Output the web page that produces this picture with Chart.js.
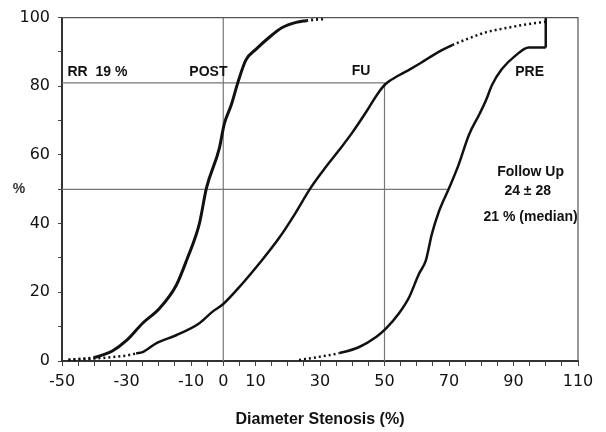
<!DOCTYPE html>
<html>
<head>
<meta charset="utf-8">
<script src="https://cdn.jsdelivr.net/npm/chart.js@4/dist/chart.umd.min.js"></script>
<style>
  html, body { margin: 0; padding: 0; background: #fff; }
</style>
</head>
<body>
<canvas id="courbes" width="606" height="432"></canvas>
<script>
// tick labels shown on the x axis
var xTickLabels = [-50, -30, -10, 0, 10, 30, 50, 70, 90, 110];

// cumulative curves (diameter stenosis %, cumulative %)
var postX = [-48, -44, -40, -37.6, -34.4, -30, -25, -19.8, -14.6, -11.3, -7.4, -5.2, -1.2, 0.3, 2.5, 4.5, 7, 10.2, 14.2, 18.3, 22.6, 25.7, 28, 31];
var postY = [0.3, 0.6, 1, 1.7, 2.9, 6, 11, 15.3, 22, 29.5, 40, 50.4, 62, 69, 74.6, 81, 87.6, 90.8, 94.2, 97.1, 98.6, 99.1, 99.4, 99.6];

var fuX = [-48, -42, -36, -30, -27, -25, -20.7, -14.6, -7.4, -3.4, 0, 5.9, 11.1, 17.3, 22, 27.1, 31, 36, 40, 44.3, 48, 50.5, 54.5, 58, 61.6, 65, 67.8, 71, 75.2, 81.4, 88.5, 93.8, 100];
var fuY = [0.3, 0.6, 1, 1.6, 2.2, 2.6, 5.2, 7.5, 11, 14.3, 16.6, 22.5, 28.3, 35.8, 42.5, 50.4, 55.5, 61.5, 66.5, 72.5, 78, 80.8, 83.2, 85, 87, 89, 90.5, 92, 93.6, 95.7, 97.1, 98, 98.8];

var preX = [23.5, 29.7, 36, 42, 47.4, 50.5, 54.5, 57.6, 60.7, 62.8, 64.7, 66.9, 70, 73, 76.2, 79.5, 81.5, 83.3, 86.4, 90.7, 94.7, 100];
var preY = [0.3, 1.2, 2.3, 4, 7, 9.5, 13.9, 18.5, 25.4, 29.2, 37, 43.6, 50.3, 57.2, 65.9, 72, 76, 80.3, 85, 89, 91.3, 91.3];
// PRE closing step at 100 %
var preEndX = [100, 100];
var preEndY = [91.3, 100];

// reference lines
var refZeroX = [0, 0];
var refZeroY = [0, 100];
var ref81X = [-50, 50, 50];
var ref81Y = [81, 81, 0];
var ref50X = [-50, 69.5];
var ref50Y = [50, 50];

function pts(xs, ys) {
  return xs.map(function (x, i) { return { x: x, y: ys[i] }; });
}

// pointillés aux extrémités des courbes
function pointille(bas, haut) {
  return function (ctx) {
    var a = ctx.p0.parsed.x, b = ctx.p1.parsed.x;
    if (b <= bas || a >= haut) return [2, 3];
    return undefined;
  };
}

function courbe(label, xs, ys, w, bas, haut) {
  return {
    label: label,
    data: pts(xs, ys),
    borderColor: '#111',
    borderWidth: w,
    pointRadius: 0,
    cubicInterpolationMode: 'monotone',
    order: 1,
    segment: { borderDash: pointille(bas, haut) }
  };
}

function repere(xs, ys, col, w) {
  return {
    data: pts(xs, ys),
    borderColor: col || '#777',
    borderWidth: w || 1.2,
    pointRadius: 0,
    tension: 0,
    order: 2
  };
}

var notes = [
  { t: 'RR  19 %', x: -48.3, y: 84.1, align: 'left' },
  { t: 'POST', x: -4.6, y: 84.1, align: 'center' },
  { t: 'FU', x: 42.7, y: 84.4, align: 'center' },
  { t: 'PRE', x: 95, y: 84.1, align: 'center' },
  { t: 'Follow Up', x: 95.3, y: 54.9, align: 'center' },
  { t: '24 \u00b1 28', x: 94.4, y: 49.4, align: 'center' },
  { t: '21 % (median)', x: 95.3, y: 41.9, align: 'center' }
];

var textes = {
  id: 'textes',
  afterDatasetsDraw: function (chart) {
    var c = chart.ctx, sx = chart.scales.x, sy = chart.scales.y, a = chart.chartArea;
    c.save();
    // cadre haut et droit
    c.strokeStyle = '#555';
    c.lineWidth = 1.2;
    c.beginPath();
    c.moveTo(a.left, a.top);
    c.lineTo(a.right, a.top);
    c.lineTo(a.right, a.bottom);
    c.stroke();

    c.fillStyle = '#111';
    c.font = 'bold 14px "Liberation Sans", Arial, sans-serif';
    c.textBaseline = 'middle';
    notes.forEach(function (n) {
      c.textAlign = n.align;
      c.fillText(n.t, sx.getPixelForValue(n.x), sy.getPixelForValue(n.y));
    });
    c.textAlign = 'center';
    c.fillStyle = '#333';
    c.fillText('%', a.left - 43, sy.getPixelForValue(50));
    c.restore();
  }
};

new Chart(document.getElementById('courbes'), {
  type: 'line',
  data: {
    datasets: [
      courbe('POST', postX, postY, 3, -38, 25),
      courbe('FU', fuX, fuY, 2.5, -27, 68),
      courbe('PRE', preX, preY, 2.5, 36, 999),
      repere(preEndX, preEndY, '#111', 2.5),
      repere(refZeroX, refZeroY),
      repere(ref81X, ref81Y),
      repere(ref50X, ref50Y)
    ]
  },
  options: {
    responsive: false,
    animation: false,
    layout: { padding: { left: 0, right: 28, top: 15, bottom: 0 } },
    plugins: { legend: { display: false }, tooltip: { enabled: false } },
    scales: {
      x: {
        type: 'linear',
        min: -50,
        max: 110,
        afterFit: function (s) { s.height = 71; },
        border: { color: '#333', width: 2 },
        grid: { drawOnChartArea: false, drawTicks: true, tickLength: 5, color: '#444' },
        ticks: {
          stepSize: 5,
          autoSkip: false,
          maxRotation: 0,
          padding: 6,
          color: '#111',
          font: { family: '"DejaVu Sans", sans-serif', size: 16 },
          callback: function (v) { return xTickLabels.indexOf(v) >= 0 ? String(v) : ''; }
        },
        title: {
          display: true,
          text: 'Diameter Stenosis (%)',
          color: '#111',
          font: { family: '"Liberation Sans", Arial, sans-serif', size: 16, weight: 'bold' },
          padding: { top: 0, bottom: 3 }
        }
      },
      y: {
        min: 0,
        max: 100,
        afterFit: function (s) { s.width = 62; },
        border: { color: '#333', width: 2 },
        grid: { drawOnChartArea: false, drawTicks: true, tickLength: 4, color: '#444' },
        ticks: {
          stepSize: 10,
          padding: 8,
          color: '#111',
          font: { family: '"DejaVu Sans", sans-serif', size: 16 },
          callback: function (v) { return v % 20 === 0 ? String(v) : ''; }
        }
      }
    }
  },
  plugins: [textes]
});
</script>
</body>
</html>
